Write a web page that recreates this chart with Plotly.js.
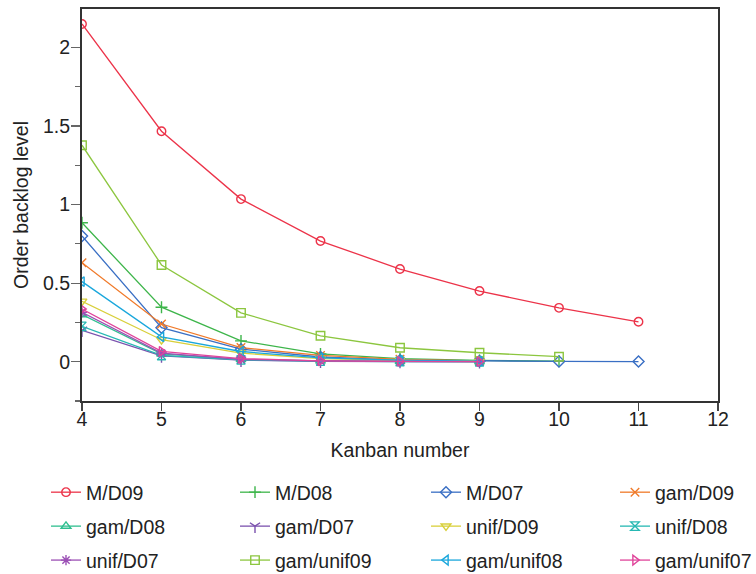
<!DOCTYPE html>
<html>
<head>
<meta charset="utf-8">
<script src="https://cdn.plot.ly/plotly-3.0.1.min.js"></script>
<style>html,body{margin:0;padding:0;background:#fff;}#chart{width:756px;height:574px;}</style>
</head>
<body>
<div id="chart"></div>
<script>
// Kanban numbers
var kanban = [4, 5, 6, 7, 8, 9, 10, 11];

// Series values (order backlog level)
var M_D09      = [2.150, 1.467, 1.035, 0.768, 0.590, 0.450, 0.343, 0.254];
var M_D08      = [0.885, 0.347, 0.133, 0.050, 0.020, 0.008, 0.003];
var M_D07      = [0.800, 0.217, 0.080, 0.030, 0.010, 0.004, 0.002, 0.001];
var gam_D09    = [0.630, 0.240, 0.090, 0.040, 0.015, 0.006];
var gam_D08    = [0.300, 0.050, 0.015, 0.005, 0.002, 0.001];
var gam_D07    = [0.200, 0.037, 0.010, 0.003, 0.001, 0.000];
var unif_D09   = [0.385, 0.140, 0.055, 0.020, 0.008, 0.003];
var unif_D08   = [0.225, 0.040, 0.012, 0.004, 0.001, 0.000];
var unif_D07   = [0.315, 0.055, 0.015, 0.005, 0.002, 0.001];
var gam_unif09 = [1.378, 0.616, 0.311, 0.165, 0.089, 0.057, 0.032];
var gam_unif08 = [0.510, 0.158, 0.065, 0.025, 0.010, 0.004];
var gam_unif07 = [0.335, 0.066, 0.020, 0.006, 0.002, 0.001];

var seriesNames = ["M/D09","M/D08","M/D07","gam/D09","gam/D08","gam/D07","unif/D09","unif/D08","unif/D07","gam/unif09","gam/unif08","gam/unif07"];
var seriesData  = [M_D09, M_D08, M_D07, gam_D09, gam_D08, gam_D07, unif_D09, unif_D08, unif_D07, gam_unif09, gam_unif08, gam_unif07];

var colors  = ["#ec3349","#3db54a","#3a6fc4","#f07a2a","#2fbf8f","#7b52ae","#d8cf3a","#26b8b3","#9b4fb5","#8cc63f","#1aa7dc","#e0449a"];
var symbols = ["circle-open","cross-thin-open","diamond-open","x-thin-open","triangle-up-open","y-down-open","triangle-down-open","hourglass-open","asterisk-open","square-open","triangle-left-open","triangle-right-open"];
var legendIds = ["legend","legend2","legend3","legend4"];

var traces = seriesNames.map(function(name, i){
  var ys = seriesData[i];
  return {
    type: "scatter",
    mode: "lines+markers",
    name: name,
    x: kanban.slice(0, ys.length),
    y: ys,
    legend: legendIds[i % 4],
    legendgroup: "g" + i,
    line: {color: colors[i], width: 1.3},
    marker: {symbol: symbols[i], size: 8.5, color: colors[i], line: {color: colors[i], width: 1.4}}
  };
});

var fontFam = "Liberation Sans, Arial, sans-serif";
var plotL = 82, plotW = 636, plotT = 9, plotH = 392;
function mkLegend(xpx){
  return {
    xref: "paper", yref: "paper",
    x: (xpx - plotL) / plotW, y: (plotT + plotH - 473) / plotH,
    xanchor: "left", yanchor: "top",
    orientation: "v", traceorder: "grouped", tracegroupgap: 5.6,
    bgcolor: "rgba(0,0,0,0)", borderwidth: 0,
    font: {family: fontFam, size: 19.5, color: "#222"}
  };
}

var layout = {
  width: 756, height: 574,
  margin: {l: 82, r: 38, t: 9, b: 173, autoexpand: false},
  paper_bgcolor: "#fff", plot_bgcolor: "#fff",
  font: {family: fontFam, size: 19.5, color: "#222"},
  xaxis: {
    range: [4, 12], dtick: 1, tick0: 4,
    showgrid: false, zeroline: false,
    showline: true, linecolor: "#333", linewidth: 2, mirror: true,
    ticks: "outside", ticklen: 8, tickcolor: "#444", tickwidth: 1.5,
    ticklabelstandoff: -8,
    tickfont: {family: fontFam, size: 19.5, color: "#222"},
    title: {text: "Kanban number", standoff: 14, font: {family: fontFam, size: 19.5, color: "#222"}}
  },
  yaxis: {
    range: [-0.25, 2.245], dtick: 0.5, tick0: 0,
    showgrid: false, zeroline: false,
    showline: true, linecolor: "#333", linewidth: 2, mirror: true,
    ticks: "outside", ticklen: 9, tickcolor: "#666", tickwidth: 1.2,
    ticklabelstandoff: -3,
    minor: {dtick: 0.25, ticks: "outside", ticklen: 5, tickcolor: "#666", tickwidth: 1.2, showgrid: false},
    tickfont: {family: fontFam, size: 19.5, color: "#222"},
    title: {text: "Order backlog level", standoff: 9, font: {family: fontFam, size: 19.5, color: "#222"}}
  },
  legend: mkLegend(46),
  legend2: mkLegend(235),
  legend3: mkLegend(426),
  legend4: mkLegend(615),
  showlegend: true
};

Plotly.newPlot("chart", traces, layout, {displayModeBar: false, staticPlot: true});
</script>
</body>
</html>
